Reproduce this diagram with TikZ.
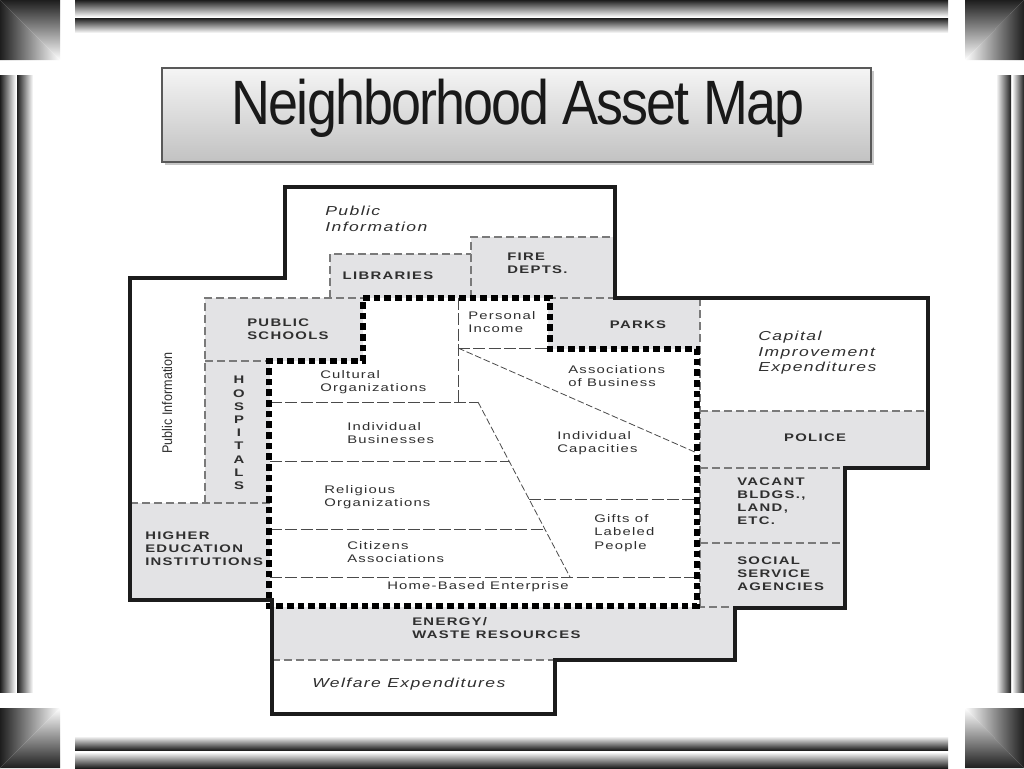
\documentclass[tikz,border=0pt]{standalone}
\usepackage{fontspec}
\setmainfont{Liberation Sans}
\newfontfamily\capfont[FakeStretch=1.35,LetterSpace=12]{Liberation Sans}
\newfontfamily\txtfont[FakeStretch=1.35,LetterSpace=11]{Liberation Sans}
\newfontfamily\titlefont[FakeStretch=0.86,LetterSpace=-3]{Liberation Sans}
\newfontfamily\narrowfont[FakeStretch=0.9]{Liberation Sans}
\definecolor{frdark}{HTML}{1E1E1E}
\definecolor{boxgray}{HTML}{E3E3E5}
\definecolor{dashgray}{HTML}{7A7A7A}
\definecolor{linegray}{HTML}{4A4A4A}
\definecolor{txt}{HTML}{2F2F2F}
\definecolor{outline}{HTML}{1C1C1C}
\begin{document}
\begin{tikzpicture}[x=0.75pt,y=-0.75pt,
  capl/.style={font={\capfont\bfseries\fontsize{8.25}{9.75}\selectfont},text=txt,inner sep=0pt,align=left},
  txtl/.style={font={\txtfont\fontsize{8.25}{9.9}\selectfont},text=txt,inner sep=0pt,align=left},
  itl/.style={font={\txtfont\itshape\fontsize{9.75}{11.7}\selectfont},text=txt,inner sep=0pt,align=left},
  region/.style={fill=boxgray},
  border/.style={draw=dashgray,line width=1.2pt,dash pattern=on 6pt off 3pt},
  inner/.style={draw=linegray,line width=0.6pt,dash pattern=on 9pt off 2.5pt},
  diag/.style={draw=linegray,line width=0.6pt,dash pattern=on 5pt off 2pt},
  core/.style={draw=black,line width=3.8pt,dash pattern=on 5pt off 3pt},
  outer/.style={draw=outline,line width=2.5pt,line join=miter}]
\useasboundingbox (0,0) rectangle (1024,768);
\fill[white] (0,0) rectangle (1024,768);
% ---------- frame ----------
\shade[top color=frdark,bottom color=white] (75,0) rectangle (948,17);
\shade[top color=frdark,bottom color=white] (75,18) rectangle (948,33);
\shade[top color=white,bottom color=frdark] (75,736) rectangle (948,750);
\shade[top color=white,bottom color=frdark] (75,752) rectangle (948,768);
\shade[left color=frdark,right color=white] (0,75) rectangle (16,692);
\shade[left color=frdark,right color=white] (17,75) rectangle (33,692);
\shade[left color=white,right color=frdark] (996,75) rectangle (1011,692);
\shade[left color=white,right color=frdark] (1012,75) rectangle (1024,692);
% corners
\shade[top color=frdark,bottom color=white] (0,0)--(60,0)--(60,60)--cycle;
\shade[left color=frdark,right color=white] (0,0)--(0,60)--(60,60)--cycle;
\shade[top color=frdark,bottom color=white] (965,0)--(1024,0)--(965,60)--cycle;
\shade[left color=white,right color=frdark] (1024,0)--(1024,60)--(965,60)--cycle;
\shade[left color=frdark,right color=white] (0,708)--(0,768)--(60,708)--cycle;
\shade[top color=white,bottom color=frdark] (0,768)--(60,768)--(60,708)--cycle;
\shade[top color=white,bottom color=frdark] (965,768)--(1024,768)--(965,708)--cycle;
\shade[left color=white,right color=frdark] (1024,708)--(1024,768)--(965,708)--cycle;
% ---------- title ----------
\fill[black!22] (165,71) rectangle (874,165);
\shade[top color=black!4,bottom color=black!24,draw=black!65,line width=0.8pt] (162,68) rectangle (871,162);
\node[font={\titlefont\fontsize{47}{47}\selectfont},text=black!90,inner sep=0pt] (title) at (518,108) {Neighborhood Asset Map};
% ---------- gray regions ----------
\fill[region] (330,254) rectangle (471,298);
\fill[region] (471,237) rectangle (615,298);
\fill[region] (205,298) rectangle (363,361);
\fill[region] (205,361) rectangle (270,503);
\fill[region] (130,503) rectangle (270,600);
\fill[region] (548,298) rectangle (700,349);
\fill[region] (700,411) rectangle (928,468);
\fill[region] (700,468) rectangle (845,607);
\fill[region] (272,607) rectangle (735,660);
% ---------- dashed borders ----------
\draw[border] (330,298)--(330,254)--(471,254);
\draw[border] (471,298)--(471,237)--(615,237);
\draw[border] (205,503)--(205,298)--(363,298);
\draw[border] (548,298)--(615,298);
\draw[border] (205,361)--(270,361);
\draw[border] (130,503)--(270,503);
\draw[border] (700,298)--(700,607);
\draw[border] (700,411)--(928,411);
\draw[border] (700,468)--(845,468);
\draw[border] (700,543)--(845,543);
\draw[border] (272,660)--(555,660);
\draw[border] (697,607)--(735,607);
% ---------- inner lines ----------
\draw[inner] (458,298)--(458,402);
\draw[inner] (458,348)--(548,348);
\draw[inner] (270,402)--(478,402);
\draw[diag] (478,402)--(570,577);
\draw[diag] (458,348)--(697,453);
\draw[inner] (270,461)--(509,461);
\draw[inner] (270,529)--(545,529);
\draw[inner] (529,499)--(697,499);
\draw[inner] (270,577)--(697,577);
% ---------- core (thick dotted) ----------
\draw[core] (363,298)--(550,298)--(550,349)--(697,349)--(697,606)--(269,606)--(269,361)--(363,361)--cycle;
% ---------- outer outline ----------
\draw[outer] (285,187)--(615,187)--(615,298)--(928,298)--(928,468)--(845,468)--(845,608)--(735,608)--(735,660)--(555,660)--(555,714)--(272,714)--(272,600)--(130,600)--(130,278)--(285,278)--cycle;
% ---------- texts ----------
\node[itl,anchor=north west] (pubinfo) at (325,206) {Public\\Information};
\node[capl] (libr) at (388,276) {LIBRARIES};
\node[capl,anchor=north west] (fire) at (507,253) {FIRE\\DEPTS.};
\node[capl,anchor=north west] (schools) at (247,319) {PUBLIC\\SCHOOLS};
\node[txtl,anchor=north west] (income) at (468,311.5) {Personal\\Income};
\node[capl] (parks) at (638,325) {PARKS};
\node[itl,anchor=north west] (capital) at (758,331) {Capital\\Improvement\\Expenditures};
\node[capl] (police) at (815,438) {POLICE};
\node[capl,anchor=north west] (vacant) at (737,478) {VACANT\\BLDGS.,\\LAND,\\ETC.};
\node[capl,anchor=north west] (social) at (737,557) {SOCIAL\\SERVICE\\AGENCIES};
\node[capl,align=center,anchor=north,font={\capfont\bfseries\fontsize{8.25}{9.9}\selectfont}] (hosp) at (239,376) {H\\O\\S\\P\\I\\T\\A\\L\\S};
\node[font={\narrowfont\fontsize{10.5}{10.5}\selectfont},text=txt,inner sep=0pt,rotate=90] (pubinfo2) at (167,403) {Public Information};
\node[capl,anchor=north west] (higher) at (145,532) {HIGHER\\EDUCATION\\INSTITUTIONS};
\node[txtl,anchor=north west] (cultural) at (320,370.5) {Cultural\\Organizations};
\node[txtl,anchor=north west] (indbus) at (347,422.5) {Individual\\Businesses};
\node[txtl,anchor=north west] (relig) at (324,485.5) {Religious\\Organizations};
\node[txtl,anchor=north west] (citizens) at (347,541.5) {Citizens\\Associations};
\node[txtl] (home) at (478,587) {Home-Based Enterprise};
\node[txtl,anchor=north west] (assoc) at (568,365.5) {Associations\\of Business};
\node[txtl,anchor=north west] (indcap) at (557,431.5) {Individual\\Capacities};
\node[txtl,anchor=north west] (gifts) at (594,514.5) {Gifts of\\Labeled\\People};
\node[capl,anchor=north west] (energy) at (412,617) {ENERGY/\\WASTE RESOURCES};
\node[itl,anchor=north west] (welfare) at (312,678) {Welfare Expenditures};
\end{tikzpicture}
\end{document}
